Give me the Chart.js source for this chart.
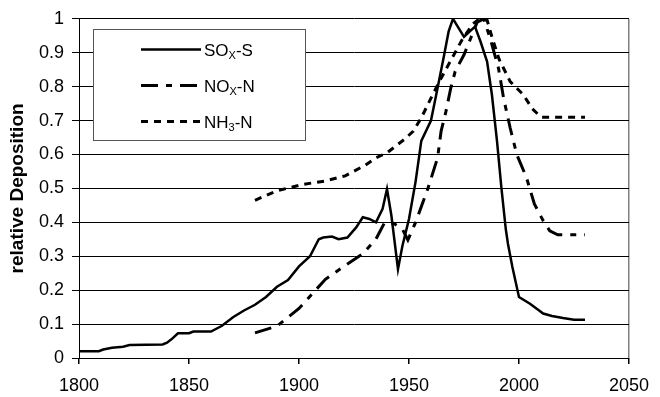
<!DOCTYPE html>
<html>
<head>
<meta charset="utf-8">
<script src="https://cdn.jsdelivr.net/npm/chart.js@4.4.1/dist/chart.umd.min.js"></script>
<style>
  html, body { margin: 0; padding: 0; background: #fff; }
  canvas { display: block; }
</style>
</head>
<body>
<canvas id="myChart" width="660" height="397"></canvas>
<script>
/**
 * Relative deposition 1800 - 2030, three series.
 */

var xTicks = [1800, 1850, 1900, 1950, 2000, 2050];
var yTicks = [0, 0.1, 0.2, 0.3, 0.4, 0.5, 0.6, 0.7, 0.8, 0.9, 1];

var soxYears = [1800, 1809, 1811, 1815, 1820, 1823, 1838, 1840, 1842, 1845, 1850, 1852, 1860, 1865, 1870, 1875,
    1880, 1885, 1890, 1895, 1900, 1905, 1909, 1911, 1915, 1918, 1922, 1926, 1929, 1932, 1935, 1938, 1940,
    1942, 1945, 1947, 1950, 1953, 1955.6, 1960, 1963, 1966, 1968, 1970, 1975, 1980, 1982.5, 1985.5, 1987.7,
    1990, 1992, 1994, 1995, 1997, 2000, 2005, 2009, 2011, 2015, 2020, 2025, 2030];
var soxValues = [0.02, 0.02, 0.025, 0.03, 0.033, 0.038, 0.04, 0.045, 0.055, 0.073, 0.073, 0.078, 0.078, 0.095, 0.12, 0.14,
    0.157, 0.18, 0.21, 0.23, 0.27, 0.30, 0.35, 0.355, 0.358, 0.35, 0.355, 0.385, 0.415, 0.41, 0.40, 0.44, 0.498,
    0.42, 0.262, 0.33, 0.41, 0.52, 0.64, 0.70, 0.796, 0.894, 0.962, 1.0, 0.947, 0.977, 0.933, 0.874, 0.776,
    0.64, 0.502, 0.38, 0.336, 0.268, 0.18, 0.16, 0.141, 0.131, 0.124, 0.118, 0.113, 0.113];

var noxYears = [1880, 1890, 1900, 1912, 1921, 1929, 1935, 1939, 1943, 1947, 1949.5, 1953, 1958.6, 1963, 1964.6,
    1966.8, 1969, 1971, 1975, 1978, 1981, 1984, 1987, 1990.7, 1993, 1996, 1999, 2003.4, 2007, 2011, 2014, 2017.6, 2030];
var noxValues = [0.074, 0.094, 0.146, 0.232, 0.273, 0.307, 0.351, 0.40, 0.397, 0.38, 0.348, 0.40, 0.50, 0.59, 0.669,
    0.727, 0.796, 0.845, 0.894, 0.942, 0.99, 1.0, 0.94, 0.854, 0.766, 0.678, 0.60, 0.532, 0.454, 0.405, 0.375, 0.363, 0.363];

var nh3Years = [1880, 1890, 1902, 1912, 1921, 1930, 1935, 1940, 1944, 1948, 1952, 1955.6, 1960, 1964.6, 1970, 1974,
    1979, 1982, 1985.5, 1988, 1991, 1996, 2002, 2006, 2010, 2030];
var nh3Values = [0.465, 0.493, 0.512, 0.522, 0.537, 0.568, 0.59, 0.605, 0.625, 0.645, 0.669, 0.708, 0.766, 0.825, 0.889, 0.937,
    0.985, 1.0, 0.996, 0.94, 0.88, 0.815, 0.776, 0.735, 0.71, 0.71];

// legend text pieces: [normal, subscript, normal]
var seriesNames = [['SO', 'X', '-S'], ['NO', 'X', '-N'], ['NH', '3', '-N']];

function toPoints(xs, ys) {
    return xs.map((x, i) => ({x: x, y: ys[i]}));
}

// legend drawn by hand, because of the subscripts
var boxLegend = {
    id: 'boxLegend',
    afterDatasetsDraw(chart) {
        var c = chart.ctx;
        c.save();
        c.fillStyle = '#fff';
        c.fillRect(93, 29, 213, 112);
        c.strokeStyle = '#555';
        c.lineWidth = 1;
        c.strokeRect(93.5, 29.5, 212, 111);

        var rows = [49.5, 85.5, 121.5];
        chart.data.datasets.forEach((ds, i) => {
            var y = rows[i];
            c.beginPath();
            c.setLineDash(ds.borderDash || []);
            c.lineWidth = ds.borderWidth;
            c.strokeStyle = '#000';
            c.moveTo(141, y);
            c.lineTo(201, y);
            c.stroke();
            c.setLineDash([]);

            var parts = seriesNames[i];
            var x = 204;
            c.fillStyle = '#000';
            c.textBaseline = 'alphabetic';
            c.font = '17px "Liberation Sans", Arial, sans-serif';
            c.fillText(parts[0], x, y + 6);
            x += c.measureText(parts[0]).width;
            c.font = '11px "Liberation Sans", Arial, sans-serif';
            c.fillText(parts[1], x, y + 9);
            x += c.measureText(parts[1]).width;
            c.font = '17px "Liberation Sans", Arial, sans-serif';
            c.fillText(parts[2], x, y + 6);
        });
        c.restore();
    }
};

var ctx = document.getElementById('myChart').getContext('2d');

var chart = new Chart(ctx, {
    type: 'line',

    data: {
        datasets: [{
            label: 'SOx-S',
            data: toPoints(soxYears, soxValues),
            borderColor: '#000',
            borderWidth: 2.5,
        }, {
            label: 'NOx-N',
            data: toPoints(noxYears, noxValues),
            borderColor: '#000',
            borderWidth: 3,
            borderDash: [17, 8, 6, 8],
        }, {
            label: 'NH3-N',
            data: toPoints(nh3Years, nh3Values),
            borderColor: '#000',
            borderWidth: 3,
            borderDash: [7, 6],
        }]
    },

    options: {
        responsive: false,
        animation: false,
        devicePixelRatio: 1,
        layout: {padding: {left: 0, right: 23, top: 17, bottom: 0}},
        elements: {
            point: {radius: 0},
            line: {tension: 0, fill: false, borderCapStyle: 'butt'}
        },
        plugins: {
            legend: {display: false},
            tooltip: {enabled: false}
        },
        scales: {
            x: {
                type: 'linear',
                min: xTicks[0],
                max: xTicks[xTicks.length - 1],
                afterBuildTicks: (scale) => { scale.ticks = xTicks.map(v => ({value: v})); },
                afterFit: (scale) => { scale.height = 39; },
                ticks: {
                    color: '#000',
                    padding: 11,
                    maxRotation: 0,
                    font: {family: '"Liberation Sans", Arial, sans-serif', size: 18},
                    callback: (v) => String(v)
                },
                grid: {
                    color: (c) => (c.tick && c.tick.value === 2050) ? '#808080' : 'rgba(0,0,0,0)',
                    lineWidth: 1.5,
                    tickColor: '#000',
                    tickLength: 6
                },
                border: {display: true, color: '#000', width: 1}
            },
            y: {
                min: 0,
                max: 1,
                afterBuildTicks: (scale) => { scale.ticks = yTicks.map(v => ({value: v})); },
                afterFit: (scale) => { scale.width = 79; },
                ticks: {
                    color: '#000',
                    padding: 8,
                    font: {family: '"Liberation Sans", Arial, sans-serif', size: 18},
                    callback: (v) => String(v)
                },
                grid: {
                    color: '#000',
                    lineWidth: 1,
                    tickColor: '#000',
                    tickLength: 7
                },
                border: {display: true, color: '#000', width: 1},
                title: {
                    display: true,
                    text: 'relative Deposition',
                    color: '#000',
                    padding: {top: 6, bottom: 0},
                    font: {family: '"Liberation Sans", Arial, sans-serif', size: 19, weight: 'bold'}
                }
            }
        }
    },

    plugins: [boxLegend]
});
</script>
</body>
</html>
